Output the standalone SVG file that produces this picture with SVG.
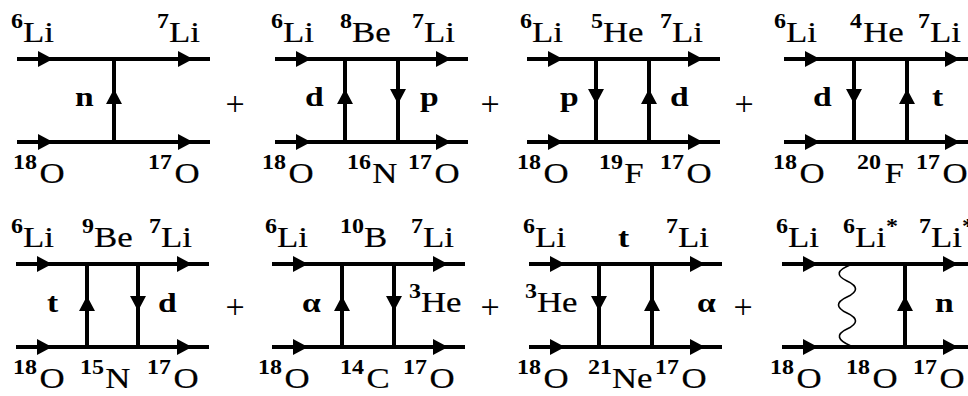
<svg xmlns="http://www.w3.org/2000/svg" xmlns:xlink="http://www.w3.org/1999/xlink" width="968" height="396" viewBox="0 0 968 396">
<style>
.t{font-family:"Liberation Serif","Times New Roman",serif;font-size:29px;fill:#000;stroke:#000;stroke-width:0.2}
.s{font-size:20px;font-weight:bold;stroke-width:0}
.b{font-family:"Liberation Serif","Times New Roman",serif;font-size:28px;font-weight:bold;fill:#000}
.pl{font-family:"Liberation Serif","Times New Roman",serif;font-size:34px;fill:#000;text-anchor:middle}
.ln line{stroke:#000;stroke-width:4}
.wv{fill:none;stroke:#000;stroke-width:1.6}
</style>
<defs>
<path id="ah" d="M0,0 L-15,-8 L-15,8 Z" fill="#000"/>
</defs>
<rect width="968" height="396" fill="#fff"/>

<g id="connectors">
<g class="ln">
<line x1="17" y1="59" x2="210" y2="59"/><line x1="17" y1="142" x2="210" y2="142"/>
<line x1="114" y1="59" x2="114" y2="142"/>
</g>
<use href="#ah" transform="translate(53,59)"/><use href="#ah" transform="translate(193,59)"/>
<use href="#ah" transform="translate(53,142)"/><use href="#ah" transform="translate(193,142)"/>
<use href="#ah" transform="translate(114,89) rotate(-90)"/>
<g class="ln">
<line x1="275" y1="59" x2="468" y2="59"/><line x1="275" y1="142" x2="468" y2="142"/>
<line x1="345" y1="59" x2="345" y2="142"/><line x1="398" y1="59" x2="398" y2="142"/>
</g>
<use href="#ah" transform="translate(311,59)"/><use href="#ah" transform="translate(451,59)"/>
<use href="#ah" transform="translate(311,142)"/><use href="#ah" transform="translate(451,142)"/>
<use href="#ah" transform="translate(345,89) rotate(-90)"/>
<use href="#ah" transform="translate(398,104) rotate(90)"/>
<g class="ln">
<line x1="527" y1="59" x2="720" y2="59"/><line x1="527" y1="142" x2="720" y2="142"/>
<line x1="596" y1="59" x2="596" y2="142"/><line x1="649" y1="59" x2="649" y2="142"/>
</g>
<use href="#ah" transform="translate(563,59)"/><use href="#ah" transform="translate(703,59)"/>
<use href="#ah" transform="translate(563,142)"/><use href="#ah" transform="translate(703,142)"/>
<use href="#ah" transform="translate(596,104) rotate(90)"/>
<use href="#ah" transform="translate(649,89) rotate(-90)"/>
<g class="ln">
<line x1="784" y1="59" x2="977" y2="59"/><line x1="784" y1="142" x2="977" y2="142"/>
<line x1="854" y1="59" x2="854" y2="142"/><line x1="907" y1="59" x2="907" y2="142"/>
</g>
<use href="#ah" transform="translate(820,59)"/><use href="#ah" transform="translate(960,59)"/>
<use href="#ah" transform="translate(820,142)"/><use href="#ah" transform="translate(960,142)"/>
<use href="#ah" transform="translate(854,104) rotate(90)"/>
<use href="#ah" transform="translate(907,89) rotate(-90)"/>
<g class="ln">
<line x1="16" y1="264" x2="209" y2="264"/><line x1="16" y1="347" x2="209" y2="347"/>
<line x1="87" y1="264" x2="87" y2="347"/><line x1="138" y1="264" x2="138" y2="347"/>
</g>
<use href="#ah" transform="translate(52,264)"/><use href="#ah" transform="translate(192,264)"/>
<use href="#ah" transform="translate(52,347)"/><use href="#ah" transform="translate(192,347)"/>
<use href="#ah" transform="translate(87,296) rotate(-90)"/>
<use href="#ah" transform="translate(138,311) rotate(90)"/>
<g class="ln">
<line x1="272" y1="264" x2="465" y2="264"/><line x1="272" y1="347" x2="465" y2="347"/>
<line x1="342" y1="264" x2="342" y2="347"/><line x1="394" y1="264" x2="394" y2="347"/>
</g>
<use href="#ah" transform="translate(308,264)"/><use href="#ah" transform="translate(448,264)"/>
<use href="#ah" transform="translate(308,347)"/><use href="#ah" transform="translate(448,347)"/>
<use href="#ah" transform="translate(342,296) rotate(-90)"/>
<use href="#ah" transform="translate(394,311) rotate(90)"/>
<g class="ln">
<line x1="529" y1="264" x2="722" y2="264"/><line x1="529" y1="347" x2="722" y2="347"/>
<line x1="599" y1="264" x2="599" y2="347"/><line x1="652" y1="264" x2="652" y2="347"/>
</g>
<use href="#ah" transform="translate(565,264)"/><use href="#ah" transform="translate(705,264)"/>
<use href="#ah" transform="translate(565,347)"/><use href="#ah" transform="translate(705,347)"/>
<use href="#ah" transform="translate(599,311) rotate(90)"/>
<use href="#ah" transform="translate(652,296) rotate(-90)"/>
<g class="ln">
<line x1="782" y1="264" x2="975" y2="264"/><line x1="782" y1="347" x2="975" y2="347"/>
<line x1="905" y1="264" x2="905" y2="347"/>
</g>
<path class="wv" d="M850,265 Q830,273 847,281 Q864,289 847,297 Q830,305 847,313 Q864,321 847,329 Q830,337 851,346"/>
<use href="#ah" transform="translate(818,264)"/><use href="#ah" transform="translate(958,264)"/>
<use href="#ah" transform="translate(818,347)"/><use href="#ah" transform="translate(958,347)"/>
<use href="#ah" transform="translate(905,296) rotate(-90)"/>
</g>

<g id="D1">
<text class="t" transform="translate(11,42) scale(1.2,1)"><tspan class="s" dy="-14">6</tspan><tspan dy="14">Li</tspan></text>
<text class="t" transform="translate(157,42) scale(1.2,1)"><tspan class="s" dy="-14">7</tspan><tspan dy="14">Li</tspan></text>
<text class="b" transform="translate(75,106) scale(1.2,1)">n</text>
<text class="t" transform="translate(13,183) scale(1.2,1)"><tspan class="s" dy="-14">18</tspan><tspan dy="14" dx="2">O</tspan></text>
<text class="t" transform="translate(148,183) scale(1.2,1)"><tspan class="s" dy="-14">17</tspan><tspan dy="14" dx="2">O</tspan></text>
</g>
<text class="pl" x="235" y="115">+</text>

<g id="D2">
<text class="t" transform="translate(271,42) scale(1.2,1)"><tspan class="s" dy="-14">6</tspan><tspan dy="14">Li</tspan></text>
<text class="t" transform="translate(340,42) scale(1.2,1)"><tspan class="s" dy="-14">8</tspan><tspan dy="14">Be</tspan></text>
<text class="t" transform="translate(412,42) scale(1.2,1)"><tspan class="s" dy="-14">7</tspan><tspan dy="14">Li</tspan></text>
<text class="b" transform="translate(305,106) scale(1.2,1)">d</text>
<text class="b" transform="translate(420,106) scale(1.2,1)">p</text>
<text class="t" transform="translate(262,183) scale(1.2,1)"><tspan class="s" dy="-14">18</tspan><tspan dy="14" dx="2">O</tspan></text>
<text class="t" transform="translate(347,183) scale(1.2,1)"><tspan class="s" dy="-14">16</tspan><tspan dy="14" dx="1">N</tspan></text>
<text class="t" transform="translate(408,183) scale(1.2,1)"><tspan class="s" dy="-14">17</tspan><tspan dy="14" dx="2">O</tspan></text>
</g>
<text class="pl" x="490" y="115">+</text>

<g id="D3">
<text class="t" transform="translate(520,42) scale(1.2,1)"><tspan class="s" dy="-14">6</tspan><tspan dy="14">Li</tspan></text>
<text class="t" transform="translate(591,42) scale(1.2,1)"><tspan class="s" dy="-14">5</tspan><tspan dy="14">He</tspan></text>
<text class="t" transform="translate(660,42) scale(1.2,1)"><tspan class="s" dy="-14">7</tspan><tspan dy="14">Li</tspan></text>
<text class="b" transform="translate(560,106) scale(1.2,1)">p</text>
<text class="b" transform="translate(670,106) scale(1.2,1)">d</text>
<text class="t" transform="translate(517,183) scale(1.2,1)"><tspan class="s" dy="-14">18</tspan><tspan dy="14" dx="2">O</tspan></text>
<text class="t" transform="translate(599,183) scale(1.2,1)"><tspan class="s" dy="-14">19</tspan><tspan dy="14" dx="1">F</tspan></text>
<text class="t" transform="translate(660,183) scale(1.2,1)"><tspan class="s" dy="-14">17</tspan><tspan dy="14" dx="2">O</tspan></text>
</g>
<text class="pl" x="744" y="115">+</text>

<g id="D4">
<text class="t" transform="translate(774,42) scale(1.2,1)"><tspan class="s" dy="-14">6</tspan><tspan dy="14">Li</tspan></text>
<text class="t" transform="translate(850,42) scale(1.2,1)"><tspan class="s" dy="-14">4</tspan><tspan dy="14" dx="1">He</tspan></text>
<text class="t" transform="translate(918,42) scale(1.2,1)"><tspan class="s" dy="-14">7</tspan><tspan dy="14">Li</tspan></text>
<text class="b" transform="translate(813,106) scale(1.2,1)">d</text>
<text class="b" transform="translate(932,106) scale(1.2,1)">t</text>
<text class="t" transform="translate(773,183) scale(1.2,1)"><tspan class="s" dy="-14">18</tspan><tspan dy="14" dx="2">O</tspan></text>
<text class="t" transform="translate(857,183) scale(1.2,1)"><tspan class="s" dy="-14">20</tspan><tspan dy="14" dx="3">F</tspan></text>
<text class="t" transform="translate(916,183) scale(1.2,1)"><tspan class="s" dy="-14">17</tspan><tspan dy="14" dx="2">O</tspan></text>
</g>

<g id="D5">
<text class="t" transform="translate(11,247) scale(1.2,1)"><tspan class="s" dy="-14">6</tspan><tspan dy="14">Li</tspan></text>
<text class="t" transform="translate(82,247) scale(1.2,1)"><tspan class="s" dy="-14">9</tspan><tspan dy="14">Be</tspan></text>
<text class="t" transform="translate(149,247) scale(1.2,1)"><tspan class="s" dy="-14">7</tspan><tspan dy="14">Li</tspan></text>
<text class="b" transform="translate(47,312) scale(1.2,1)">t</text>
<text class="b" transform="translate(158,312) scale(1.2,1)">d</text>
<text class="t" transform="translate(13,388) scale(1.2,1)"><tspan class="s" dy="-14">18</tspan><tspan dy="14" dx="2">O</tspan></text>
<text class="t" transform="translate(80,388) scale(1.2,1)"><tspan class="s" dy="-14">15</tspan><tspan dy="14" dx="1">N</tspan></text>
<text class="t" transform="translate(147,388) scale(1.2,1)"><tspan class="s" dy="-14">17</tspan><tspan dy="14" dx="2">O</tspan></text>
</g>
<text class="pl" x="235" y="318">+</text>

<g id="D6">
<text class="t" transform="translate(265,247) scale(1.2,1)"><tspan class="s" dy="-14">6</tspan><tspan dy="14">Li</tspan></text>
<text class="t" transform="translate(340,247) scale(1.2,1)"><tspan class="s" dy="-14">10</tspan><tspan dy="14">B</tspan></text>
<text class="t" transform="translate(411,247) scale(1.2,1)"><tspan class="s" dy="-14">7</tspan><tspan dy="14">Li</tspan></text>
<text class="b" transform="translate(302,312) scale(1.2,1)">α</text>
<text class="t" transform="translate(409,312) scale(1.2,1)"><tspan class="s" dy="-14">3</tspan><tspan dy="14">He</tspan></text>
<text class="t" transform="translate(258,388) scale(1.2,1)"><tspan class="s" dy="-14">18</tspan><tspan dy="14" dx="2">O</tspan></text>
<text class="t" transform="translate(340,388) scale(1.2,1)"><tspan class="s" dy="-14">14</tspan><tspan dy="14" dx="2">C</tspan></text>
<text class="t" transform="translate(403,388) scale(1.2,1)"><tspan class="s" dy="-14">17</tspan><tspan dy="14" dx="2">O</tspan></text>
</g>
<text class="pl" x="490" y="318">+</text>

<g id="D7">
<text class="t" transform="translate(523,247) scale(1.2,1)"><tspan class="s" dy="-14">6</tspan><tspan dy="14">Li</tspan></text>
<text class="b" transform="translate(618,247) scale(1.2,1)">t</text>
<text class="t" transform="translate(666,247) scale(1.2,1)"><tspan class="s" dy="-14">7</tspan><tspan dy="14">Li</tspan></text>
<text class="t" transform="translate(525,312) scale(1.2,1)"><tspan class="s" dy="-14">3</tspan><tspan dy="14">He</tspan></text>
<text class="b" transform="translate(697,312) scale(1.2,1)">α</text>
<text class="t" transform="translate(517,388) scale(1.2,1)"><tspan class="s" dy="-14">18</tspan><tspan dy="14" dx="2">O</tspan></text>
<text class="t" transform="translate(588,388) scale(1.2,1)"><tspan class="s" dy="-14">21</tspan><tspan dy="14">Ne</tspan></text>
<text class="t" transform="translate(655,388) scale(1.2,1)"><tspan class="s" dy="-14">17</tspan><tspan dy="14" dx="2">O</tspan></text>
</g>
<text class="pl" x="743" y="318">+</text>

<g id="D8">
<text class="t" transform="translate(776,247) scale(1.2,1)"><tspan class="s" dy="-14">6</tspan><tspan dy="14">Li</tspan></text>
<text class="t" transform="translate(843,247) scale(1.2,1)"><tspan class="s" dy="-14">6</tspan><tspan dy="14">Li</tspan><tspan class="s" dy="-14">*</tspan></text>
<text class="t" transform="translate(919,247) scale(1.2,1)"><tspan class="s" dy="-14">7</tspan><tspan dy="14">Li</tspan><tspan class="s" dy="-14">*</tspan></text>
<text class="b" transform="translate(935,312) scale(1.2,1)">n</text>
<text class="t" transform="translate(770,388) scale(1.2,1)"><tspan class="s" dy="-14">18</tspan><tspan dy="14" dx="2">O</tspan></text>
<text class="t" transform="translate(846,388) scale(1.2,1)"><tspan class="s" dy="-14">18</tspan><tspan dy="14" dx="2">O</tspan></text>
<text class="t" transform="translate(913,388) scale(1.2,1)"><tspan class="s" dy="-14">17</tspan><tspan dy="14" dx="2">O</tspan></text>
</g>
</svg>
